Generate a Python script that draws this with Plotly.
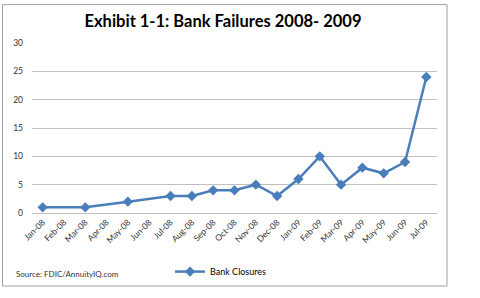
import plotly.graph_objects as go

months = ["Jan-08", "Feb-08", "Mar-08", "Apr-08", "May-08", "Jun-08", "Jul-08", "Aug-08",
          "Sep-08", "Oct-08", "Nov-08", "Dec-08", "Jan-09", "Feb-09", "Mar-09", "Apr-09",
          "May-09", "Jun-09", "Jul-09"]
closures = [1, None, 1, None, 2, None, 3, 3, 4, 4, 5, 3, 6, 10, 5, 8, 7, 9, 24]
y_ticks = [0, 5, 10, 15, 20, 25, 30]

W, H = 480, 298
L, R, T, B = 32, 437, 43, 220

def px(x):
    return (x - L) / (R - L)

def py(y):
    return (B - y) / (B - T)

fig = go.Figure()
fig.add_trace(go.Scatter(
    x=months, y=closures, mode="lines+markers", name="Bank Closures",
    connectgaps=True,
    line=dict(color="#4a7ebb", width=2.5),
    marker=dict(symbol="diamond", size=8, color="#4a7ebb"),
))

fig.update_layout(
    width=W, height=H,
    margin=dict(l=L, r=W - R, t=T, b=H - B),
    paper_bgcolor="white", plot_bgcolor="white",
    font=dict(family="Lato, Open Sans, sans-serif", color="#333333", size=8),
    title=dict(text="<b>Exhibit 1-1: Bank Failures 2008- 2009</b>",
               x=223 / W, xref="container", xanchor="center",
               y=1 - 21 / H, yref="container", yanchor="middle",
               font=dict(size=16.5, color="black", family="Lato, Open Sans, sans-serif")),
    showlegend=True,
    legend=dict(x=px(170), y=py(281), xanchor="left", yanchor="middle",
                orientation="h", font=dict(size=9, color="#000000"),
                itemwidth=30, bgcolor="rgba(0,0,0,0)"),
    xaxis=dict(type="category", categoryorder="array", categoryarray=months,
               range=[-0.5, len(months) - 0.5], showgrid=False, showline=True,
               linecolor="#bfbfbf", linewidth=1, tickangle=-45, ticks="",
               tickfont=dict(size=8.5, color="#333333"), zeroline=False),
    yaxis=dict(range=[0, 30], tickvals=y_ticks, showgrid=True, gridcolor="#bfbfbf",
               gridwidth=1, zeroline=False, showline=False, ticks="",
               tickfont=dict(size=8.5, color="#333333"), ticklabelstandoff=8),
    annotations=[dict(text="Source: FDIC/AnnuityIQ.com", xref="paper", yref="paper",
                      x=px(14), y=py(283), xanchor="left", yanchor="middle",
                      showarrow=False, font=dict(size=8, color="#333333"))],
    shapes=[dict(type="rect", xref="paper", yref="paper",
                 x0=px(2.5), x1=px(447), y0=py(296), y1=py(3),
                 line=dict(color="#a0a0a0", width=1), fillcolor="rgba(0,0,0,0)")],
)

fig.write_html("out.html")
